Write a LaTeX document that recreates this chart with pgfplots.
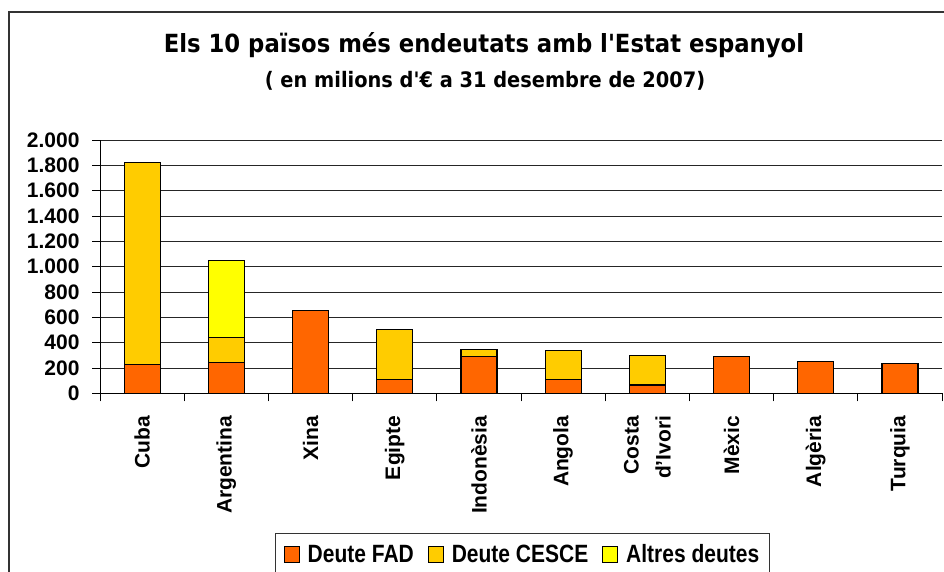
\documentclass[border=0pt]{standalone}
\usepackage{fontspec}
\setmainfont{Liberation Sans}
\newfontfamily\titlefont{DejaVu Sans}[FakeStretch=0.91]
\newfontfamily\legfont{Liberation Sans}[FakeStretch=0.84]
\usepackage{pgfplots}
\pgfplotsset{compat=1.18}
\definecolor{fad}{HTML}{FF6600}
\definecolor{cesce}{HTML}{FFCC00}
\definecolor{altres}{HTML}{FFFF00}
\pgfplotsset{sqleg/.style={legend image code/.code={\draw[##1, line width=0.9pt] (0pt,-8pt) rectangle (15pt,8pt);}}}
\begin{document}
\begin{tikzpicture}[x=1pt,y=1pt]
\useasboundingbox (0,0) rectangle (944,572);
\clip (0,0) rectangle (944,572);
\draw[line width=1.3pt, color=black!80] (9,560) rectangle (990,-30);
\node[anchor=base, font=\titlefont\bfseries\fontsize{25}{30}\selectfont] at (484,519) {Els 10 països més endeutats amb l'Estat espanyol};
\node[anchor=base, font=\titlefont\bfseries\fontsize{21.3}{26}\selectfont] at (485,484) {( en milions d'€ a 31 desembre de 2007)};
\begin{axis}[
  at={(100pt,178.7pt)}, anchor=south west,
  scale only axis, width=842pt, height=253.3pt,
  xmin=-0.5, xmax=9.5, ymin=0, ymax=2000,
  ybar stacked, bar width=36pt,
  axis x line=bottom, axis y line=left,
  axis line style={-, black, line width=1pt},
  tick align=outside, major tick length=8pt,
  tick style={black, line width=0.9pt},
  xtick={-0.5,0.5,...,9.5}, xticklabels={},
  xticklabel shift=19pt,
  extra x ticks={0,1,2,3,4,5,6,7,8,9},
  extra x tick labels={Cuba,Argentina,Xina,Egipte,Indonèsia,Angola,{Costa\\d'Ivori},Mèxic,Algèria,Turquia},
  extra x tick style={major tick length=0pt, grid=none,
    tick label style={rotate=90, anchor=east, align=right,
      font=\bfseries\fontsize{21}{32}\selectfont}},
  ytick={0,200,...,2000}, scaled y ticks=false,
  yticklabel shift=9pt,
  ymajorgrids, grid style={black!85, line width=0.9pt},
  /pgf/number format/1000 sep={.},
  /pgf/number format/assume math mode=true,
  yticklabel style={font=\bfseries\fontsize{21}{24}\selectfont},
  legend columns=3,
  legend style={at={(0.5018,-0.5515)}, anchor=north, draw=black!80, line width=1pt,
    inner ysep=9pt, inner xsep=8pt,
    font=\legfont\bfseries\fontsize{25}{30}\selectfont,
    /tikz/every even column/.append style={column sep=12pt},
    /tikz/every odd column/.append style={column sep=6pt}},
]
\addplot[fill=fad, draw=black, line width=1.2pt, sqleg]
  coordinates {(0,225) (1,245) (2,655) (3,110) (4,289) (5,110) (6,66) (7,289) (8,250) (9,237)};
\addlegendentry{Deute FAD}
\addplot[fill=cesce, draw=black, line width=1.2pt, sqleg]
  coordinates {(0,1595) (1,195) (2,0) (3,395) (4,55) (5,226) (6,234) (7,0) (8,0) (9,0)};
\addlegendentry{Deute CESCE}
\addplot[fill=altres, draw=black, line width=1.2pt, sqleg]
  coordinates {(0,0) (1,610) (2,0) (3,0) (4,0) (5,0) (6,0) (7,0) (8,0) (9,0)};
\addlegendentry{Altres deutes}
\end{axis}
\end{tikzpicture}
\end{document}
